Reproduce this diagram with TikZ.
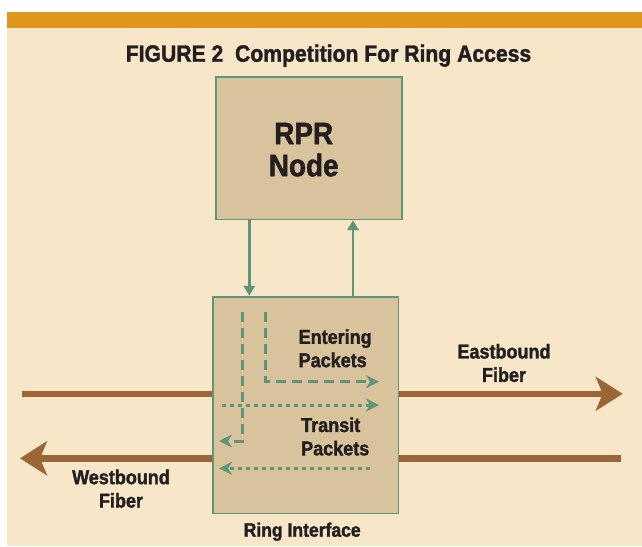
\documentclass[tikz,border=0pt]{standalone}
\usepackage{fontspec}
\setmainfont[FakeStretch=0.9, BoldFeatures={FakeBold=1.6}]{Liberation Sans}
\usetikzlibrary{arrows.meta}
\definecolor{pagebg}{HTML}{F8E6C8}
\definecolor{topbar}{HTML}{E0951C}
\definecolor{boxfill}{HTML}{D9C39D}
\definecolor{sgreen}{HTML}{5F967A}
\definecolor{fiberbrown}{HTML}{9B6635}
\definecolor{ink}{HTML}{231F20}
\tikzset{
  unitbox/.style={draw=sgreen, line width=1.6pt, fill=boxfill, inner sep=0pt},
  lbl/.style={text=ink, inner sep=0pt, font=\fontsize{20}{23.4}\selectfont\bfseries},
  fiber/.style={draw=fiberbrown, line width=6.5pt},
  fibertip/.style={-{Stealth[length=27pt,width=34pt,inset=7pt]}},
  ctrl/.style={draw=sgreen, line width=2.5pt, -{Triangle[length=10pt,width=11pt]}},
  pktdash/.style={draw=sgreen, line width=3pt, dash pattern=on 10pt off 6pt,
    -{Stealth[length=13pt,width=13pt,inset=4pt]}},
  pktdot/.style={draw=sgreen, line width=3pt, dash pattern=on 4pt off 4pt,
    -{Stealth[length=13pt,width=13pt,inset=4pt]}}
}
\begin{document}
\begin{tikzpicture}[x=1pt,y=-1pt]
\useasboundingbox (0,0) rectangle (642,546);
\fill[white] (0,0) rectangle (642,546);
\fill[pagebg] (7,12) rectangle (642,546);
\fill[topbar] (7,12) rectangle (642,28.3);

% title
\node[anchor=base, text=ink, inner sep=0pt, font=\fontsize{23.5}{26}\selectfont\bfseries]
  (title) at (328.5,61.7) {FIGURE 2\ \ Competition For Ring Access};

% boxes
\node[unitbox, minimum width=185.7pt, minimum height=142.6pt] (rpr) at (308.85,148) {};
\node[text=ink, inner sep=0pt, align=center, font=\fontsize{31}{32}\selectfont\bfseries]
  (rprlabel) at (303.7,149.7) {RPR\\Node};
\node[unitbox, minimum width=185.6pt, minimum height=216.6pt] (ring) at (305.5,405) {};
\node[anchor=base, text=ink, inner sep=0pt, font=\fontsize{19.5}{22}\selectfont\bfseries]
  (ringlabel) at (302.2,536.7) {Ring Interface};

% control arrows between node and interface
\coordinate (downx) at (249.3,0);
\coordinate (upx) at (353,0);
\draw[ctrl] (rpr.south -| downx) -- (ring.north -| downx);
\draw[ctrl] (ring.north -| upx) -- (rpr.south -| upx);

% fibers
\coordinate (ewest) at (22,393.8);
\coordinate (eeast) at (622.7,393.8);
\coordinate (wwest) at (20,458.3);
\coordinate (weast) at (621,458.3);
\draw[fiber] (ewest) -- (ring.west |- ewest);
\draw[fiber, fibertip] (ring.east |- eeast) -- (eeast);
\draw[fiber, fibertip] (ring.west |- wwest) -- (wwest);
\draw[fiber] (ring.east |- weast) -- (weast);

\node[lbl, align=center] (east) at (504,363) {Eastbound\\Fiber};
\node[lbl, align=center] (west) at (121,488.7) {Westbound\\Fiber};

% packet flows
\coordinate (enterstart) at (265.7,311.7);
\coordinate (enterbend) at (265.7,381.7);
\coordinate (enterend) at (379,381.7);
\coordinate (dropstart) at (242.7,311.7);
\coordinate (dropbend) at (242.7,441);
\coordinate (dropend) at (219,441);
\coordinate (transitstart) at (221.7,405);
\coordinate (transitend) at (379,405);
\coordinate (wtransitstart) at (370,468.3);
\coordinate (wtransitend) at (219,468.3);
\draw[pktdash] (enterstart) -- (enterbend) -- (enterend);
\draw[pktdash] (dropstart) -- (dropbend) -- (dropend);
\draw[pktdot] (transitstart) -- (transitend);
\draw[pktdot] (wtransitstart) -- (wtransitend);

\node[lbl, align=left, anchor=west] (entering) at (298.5,348.3) {Entering\\Packets};
\node[lbl, align=left, anchor=west] (transit) at (301,436.5) {Transit\\Packets};
\end{tikzpicture}
\end{document}
